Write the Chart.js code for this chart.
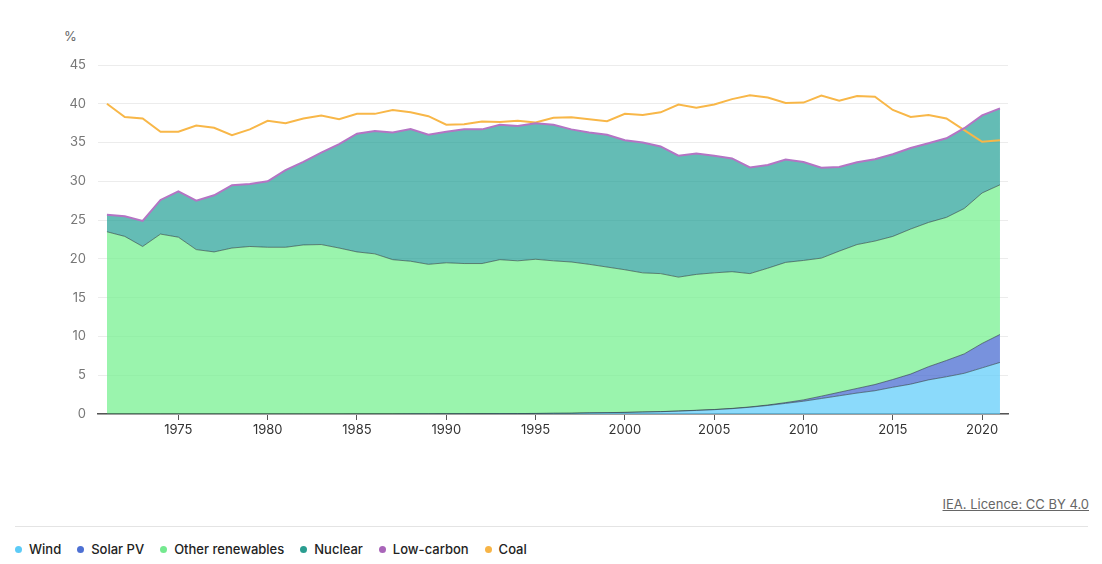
<!DOCTYPE html>
<html>
<head>
<meta charset="utf-8">
<script src="https://cdn.jsdelivr.net/npm/chart.js@4.4.1/dist/chart.umd.min.js"></script>
<style>
  html, body { margin: 0; padding: 0; background: #fff; }
  body { font-family: Inter, "Noto Sans", sans-serif; }
  #wrap { position: relative; width: 1102px; height: 564px; overflow: hidden; }
  #chartBox { position: absolute; left: 0; top: 0; width: 1102px; height: 444px; }
  .unit { position: absolute; left: 64px; top: 28px; font-size: 13px; color: #666; }
  .credit { position: absolute; right: 13px; top: 496px; font-size: 13px; color: #666; text-decoration: underline; }
  .rule { position: absolute; left: 15px; right: 14px; top: 526px; border-top: 1px solid #e4e4e4; }
  #legend { position: absolute; left: 15px; top: 540px; display: flex; font-size: 13px; font-weight: 500; color: #222; }
  #legend .item { display: flex; align-items: center; margin-right: 16px; line-height: 18px; }
  #legend .dot { width: 7px; height: 7px; border-radius: 50%; margin-right: 7px; }
</style>
</head>
<body>
<div id="wrap">
  <div class="unit">%</div>
  <div id="chartBox"><canvas id="chart"></canvas></div>
  <div class="credit">IEA. Licence: CC BY 4.0</div>
  <div class="rule"></div>
  <div id="legend"></div>
</div>
<script>
// Share of electricity generation, %
const years = [1971, 1972, 1973, 1974, 1975, 1976, 1977, 1978, 1979, 1980,
    1981, 1982, 1983, 1984, 1985, 1986, 1987, 1988, 1989, 1990,
    1991, 1992, 1993, 1994, 1995, 1996, 1997, 1998, 1999, 2000,
    2001, 2002, 2003, 2004, 2005, 2006, 2007, 2008, 2009, 2010,
    2011, 2012, 2013, 2014, 2015, 2016, 2017, 2018, 2019, 2020, 2021];

const wind = [0, 0, 0, 0, 0, 0, 0, 0, 0, 0,
    0, 0, 0, 0, 0.01, 0.01, 0.01, 0.02, 0.02, 0.03,
    0.03, 0.04, 0.05, 0.06, 0.07, 0.09, 0.1, 0.15, 0.18, 0.2,
    0.25, 0.3, 0.37, 0.46, 0.56, 0.69, 0.87, 1.1, 1.37, 1.65,
    2.0, 2.35, 2.7, 3.0, 3.45, 3.85, 4.4, 4.8, 5.25, 5.95, 6.65];

const solarPV = [0, 0, 0, 0, 0, 0, 0, 0, 0, 0,
    0, 0, 0, 0, 0, 0, 0, 0, 0, 0,
    0, 0, 0, 0, 0, 0, 0, 0, 0, 0.01,
    0.01, 0.01, 0.02, 0.02, 0.02, 0.03, 0.04, 0.06, 0.1, 0.17,
    0.3, 0.45, 0.6, 0.8, 1.0, 1.3, 1.7, 2.1, 2.5, 3.15, 3.6];

const otherRenewables = [23.5, 22.9, 21.6, 23.2, 22.8, 21.2, 20.9, 21.4, 21.6, 21.5,
    21.5, 21.8, 21.85, 21.4, 20.89, 20.64, 19.89, 19.68, 19.28, 19.47,
    19.37, 19.36, 19.85, 19.69, 19.88, 19.66, 19.5, 19.15, 18.77, 18.39,
    17.94, 17.79, 17.26, 17.52, 17.62, 17.63, 17.19, 17.64, 18.08, 17.98,
    17.8, 18.2, 18.55, 18.5, 18.45, 18.7, 18.6, 18.45, 18.75, 19.4, 19.3];

const nuclear = [2.2, 2.6, 3.3, 4.4, 5.9, 6.3, 7.3, 8.1, 8.05, 8.5,
    9.95, 10.7, 11.85, 13.4, 15.25, 15.85, 16.4, 17.05, 16.7, 16.9,
    17.3, 17.3, 17.4, 17.4, 17.55, 17.55, 17.1, 17.0, 17.05, 16.7,
    16.8, 16.4, 15.65, 15.6, 15.1, 14.6, 13.7, 13.3, 13.25, 12.7,
    11.65, 10.85, 10.6, 10.55, 10.6, 10.45, 10.2, 10.2, 10.35, 10.0, 9.85];

const lowCarbon = [25.7, 25.5, 24.9, 27.6, 28.7, 27.5, 28.2, 29.5, 29.65, 30.0,
    31.45, 32.5, 33.7, 34.8, 36.15, 36.5, 36.3, 36.75, 36.0, 36.4,
    36.7, 36.7, 37.3, 37.15, 37.5, 37.3, 36.7, 36.3, 36.0, 35.3,
    35.0, 34.5, 33.3, 33.6, 33.3, 32.95, 31.8, 32.1, 32.8, 32.5,
    31.75, 31.85, 32.45, 32.85, 33.5, 34.3, 34.9, 35.55, 36.85, 38.5, 39.4];

const coal = [40.0, 38.3, 38.1, 36.4, 36.4, 37.2, 36.9, 35.95, 36.7, 37.8,
    37.5, 38.1, 38.5, 38.0, 38.7, 38.7, 39.2, 38.9, 38.4, 37.3,
    37.35, 37.7, 37.65, 37.8, 37.6, 38.2, 38.25, 38.0, 37.75, 38.7,
    38.55, 38.9, 39.9, 39.5, 39.9, 40.6, 41.1, 40.8, 40.1, 40.15,
    41.05, 40.4, 41.0, 40.9, 39.2, 38.3, 38.55, 38.1, 36.6, 35.1, 35.3];

const seriesNames = ['Wind', 'Solar PV', 'Other renewables', 'Nuclear', 'Low-carbon', 'Coal'];
const legendColors = ['#5ccbf7', '#4d70d3', '#74e98f', '#2a9d90', '#a965b9', '#f7b446'];

const edge = 'rgba(40, 55, 60, 0.75)';

function area(label, data, fill, bg, borderWidth) {
    return {
        label, data, fill,
        backgroundColor: bg,
        borderColor: edge,
        borderWidth,
        stack: 'mix',
        pointRadius: 0,
        tension: 0,
        order: 1
    };
}

const datasets = [
    area(seriesNames[0], wind, 'origin', 'rgba(100, 205, 250, 0.75)', 0.8),
    area(seriesNames[1], solarPV, '-1', 'rgba(75, 110, 210, 0.75)', 0.8),
    area(seriesNames[2], otherRenewables, '-1', 'rgba(120, 240, 145, 0.75)', 0.8),
    area(seriesNames[3], nuclear, '-1', 'rgba(34, 160, 150, 0.7)', 0),
    {
        label: seriesNames[4], data: lowCarbon, fill: false,
        borderColor: '#b474c4', borderWidth: 2, stack: 'lc',
        pointRadius: 0, tension: 0, order: 0
    },
    {
        label: seriesNames[5], data: coal, fill: false,
        borderColor: '#f8b748', borderWidth: 2, stack: 'coal',
        pointRadius: 0, tension: 0, order: 0
    }
];

Chart.defaults.font.family = 'Inter, "Noto Sans", sans-serif';
Chart.defaults.font.size = 13;

new Chart(document.getElementById('chart'), {
    type: 'line',
    data: { labels: years, datasets },
    options: {
        responsive: true,
        maintainAspectRatio: false,
        animation: false,
        layout: { padding: { top: 65, right: 94, left: 0, bottom: 0 } },
        plugins: { legend: { display: false }, tooltip: { enabled: false } },
        scales: {
            x: {
                type: 'linear',
                min: 1970.5,
                max: 2021.45,
                afterFit: s => { s.height = 30; },
                ticks: {
                    stepSize: 5,
                    includeBounds: false,
                    color: '#333',
                    padding: 2,
                    maxRotation: 0,
                    callback: v => String(v)
                },
                grid: { drawOnChartArea: false, drawTicks: true, tickLength: 6, color: '#555' },
                border: { display: true, color: '#555', width: 1.5 }
            },
            y: {
                stacked: true,
                min: 0,
                max: 45,
                afterFit: s => { s.width = 98; },
                ticks: { stepSize: 5, color: '#777', padding: 12 },
                grid: { color: '#ececec', drawTicks: false },
                border: { display: false }
            }
        }
    }
});

// HTML legend
const legend = document.getElementById('legend');
seriesNames.forEach((name, i) => {
    const item = document.createElement('div');
    item.className = 'item';
    item.innerHTML = `<span class="dot" style="background:${legendColors[i]}"></span><span>${name}</span>`;
    legend.appendChild(item);
});
</script>
</body>
</html>
